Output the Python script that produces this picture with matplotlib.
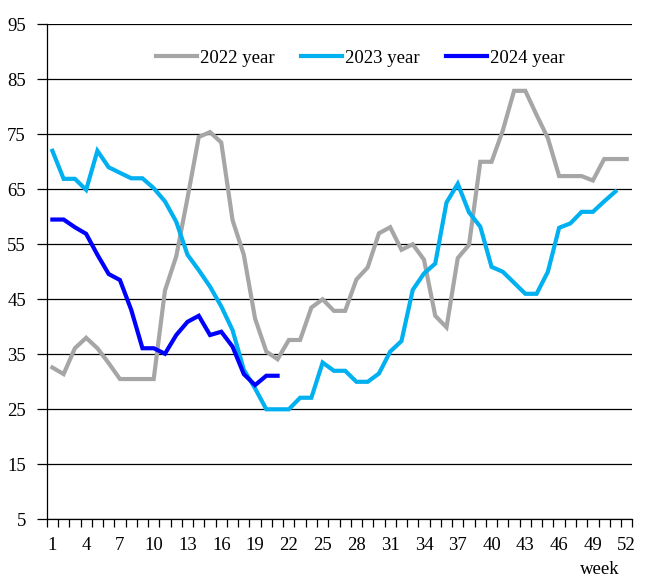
import matplotlib
matplotlib.use('Agg')
import matplotlib.pyplot as plt
import numpy as np

plt.rcParams['font.family'] = ['Liberation Serif', 'DejaVu Serif']

# weekly values
y2022 = [32.6, 31.4, 36.1, 38.0, 36.1, 33.4, 30.5, 30.5, 30.5, 30.5,
         46.6, 52.8, 63.4, 74.5, 75.4, 73.5, 59.4, 53.1, 41.5, 35.5,
         34.1, 37.6, 37.6, 43.5, 45.0, 42.9, 42.9, 48.6, 50.8, 57.0,
         58.1, 54.0, 55.0, 52.2, 42.0, 39.9, 52.5, 54.9, 70.0, 70.0,
         75.7, 82.9, 82.9, 78.5, 74.3, 67.4, 67.4, 67.4, 66.6, 70.5,
         70.5, 70.5]
y2023 = [72.0, 66.9, 66.9, 64.9, 72.0, 69.0, 68.0, 67.0, 67.0, 65.2,
         62.8, 59.1, 53.1, 50.3, 47.3, 43.7, 39.4, 32.2, 28.8, 25.0,
         25.0, 25.0, 27.1, 27.1, 33.5, 32.0, 32.0, 30.0, 30.0, 31.5,
         35.5, 37.4, 46.7, 49.7, 51.5, 62.6, 66.0, 60.8, 58.2, 50.9,
         50.0, 48.0, 46.0, 46.0, 50.0, 58.0, 58.8, 60.9, 60.9, 62.8,
         64.6]
y2024 = [59.5, 59.5, 58.1, 56.9, 53.1, 49.6, 48.5, 43.1, 36.1, 36.1,
         35.1, 38.5, 40.9, 42.0, 38.5, 39.1, 36.4, 31.4, 29.4, 31.1,
         31.1]

labels = ['2022 year', '2023 year', '2024 year']
colors = ['#A6A6A6', '#00B0F0', '#0000FF']
yticks = list(range(5, 96, 10))
xlabels = list(range(1, 53, 3))

fig = plt.figure(figsize=(6.49, 5.85), dpi=100)
ax = fig.add_axes([0.072, 0.1123, 0.9023, 0.8462])

for vals, lab, col in zip([y2022, y2023, y2024], labels, colors):
    weeks = np.arange(1, len(vals) + 1)
    ax.plot(weeks, vals, color=col, lw=3, label=lab, solid_joinstyle='miter')

ax.set_xlim(0.5, 52.5)
ax.set_ylim(5, 95)
ax.set_yticks(yticks)
ax.yaxis.grid(True, color='black', lw=0.9)
ax.set_axisbelow(True)

# category style axis: ticks between weeks, labels on weeks
ax.set_xticks(xlabels)
ax.set_xticks(np.arange(0.5, 53, 1), minor=True)
ax.tick_params(axis='x', which='major', length=0, pad=13, labelsize=13.5)
ax.tick_params(axis='x', which='minor', length=5.5, width=0.9, direction='out')
ax.tick_params(axis='y', length=7, width=0.9, pad=8, labelsize=13.5)

for s in ['top', 'right']:
    ax.spines[s].set_visible(False)
for s in ['left', 'bottom']:
    ax.spines[s].set_linewidth(0.9)

ax.legend(loc='center', bbox_to_anchor=(0.535, 0.932), ncol=3, frameon=False,
          fontsize=13.5, handlelength=2.2, handletextpad=0.15, columnspacing=1.4)

fig.text(600 / 649, 1 - 569 / 585, 'week', ha='center', va='center', fontsize=13.5)

fig.savefig('out.png', dpi=100)
